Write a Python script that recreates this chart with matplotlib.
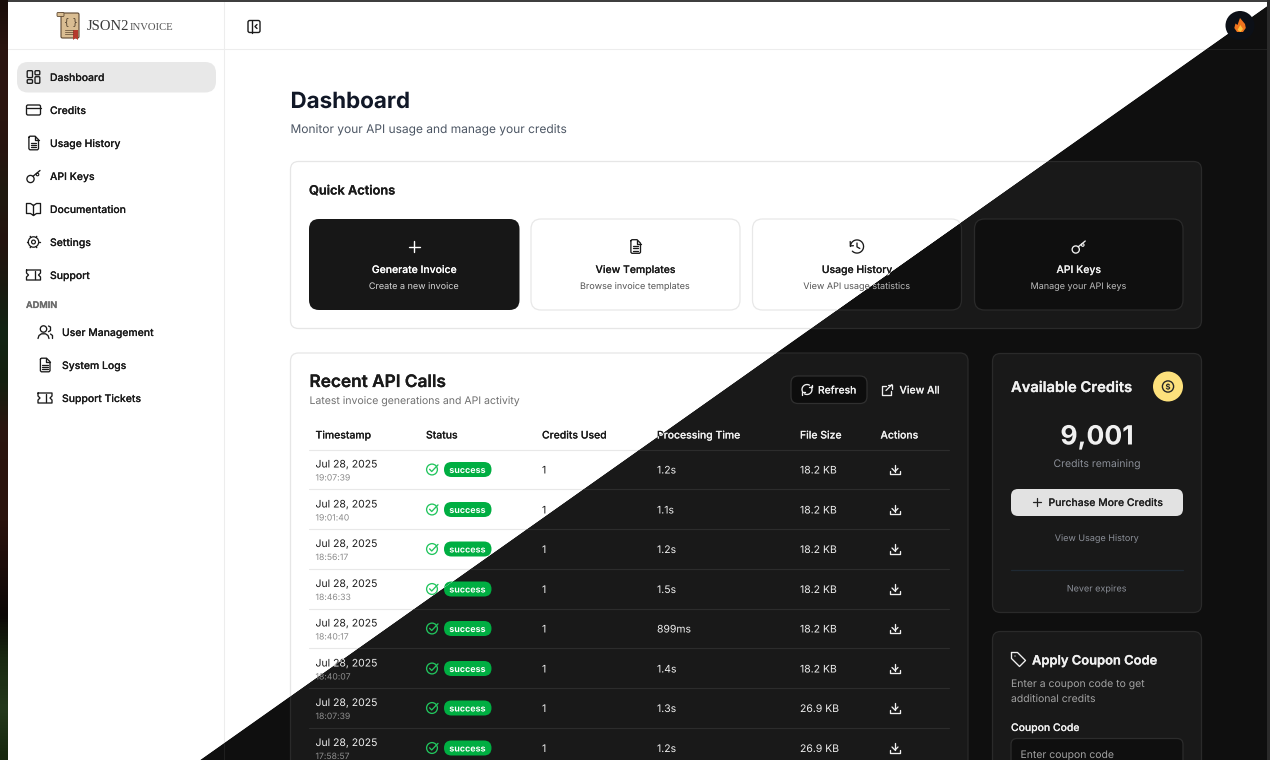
import matplotlib
matplotlib.use("Agg")
import matplotlib.pyplot as plt
import matplotlib.patheffects as pe
from matplotlib.patches import FancyBboxPatch, Polygon, Circle, Rectangle
from matplotlib.colors import LinearSegmentedColormap
import numpy as np

plt.rcParams['font.family'] = ['Inter', 'DejaVu Sans']

# ---- content ----
nav_items = ["Dashboard", "Credits", "Usage History", "API Keys", "Documentation", "Settings", "Support"]
nav_icons = ["grid", "card", "doc", "key", "book", "gear", "ticket"]
admin_items = ["User Management", "System Logs", "Support Tickets"]
admin_icons = ["users", "doc", "ticket"]
action_titles = ["Generate Invoice", "View Templates", "Usage History", "API Keys"]
action_subs = ["Create a new invoice", "Browse invoice templates", "View API usage statistics", "Manage your API keys"]
action_icons = ["plus", "doc", "history", "key"]
table_headers = ["Timestamp", "Status", "Credits Used", "Processing Time", "File Size", "Actions"]
row_dates = ["Jul 28, 2025"] * 8
row_times = ["19:07:39", "19:01:40", "18:56:17", "18:46:33", "18:40:17", "18:40:07", "18:07:39", "17:58:57"]
row_status = ["success"] * 8
row_credits = ["1"] * 8
row_proc = ["1.2s", "1.1s", "1.2s", "1.5s", "899ms", "1.4s", "1.3s", "1.2s"]
row_size = ["18.2 KB", "18.2 KB", "18.2 KB", "18.2 KB", "18.2 KB", "18.2 KB", "26.9 KB", "26.9 KB"]
row_y = [469.5, 509.5, 549, 589, 628.5, 668.5, 708, 748]
wallpaper_colors = ["#1a0e0a", "#2a1510", "#2c1610", "#28140f", "#1f1a10", "#24130e", "#1a1a10", "#122414", "#14200f",
                    "#2a1610", "#2a130d", "#2a130d", "#1c0d0a", "#0c0806", "#1a2a12", "#24381c", "#18280f"]

W, H = 1270, 760
fig = plt.figure(figsize=(12.7, 7.6), dpi=100)
ax = fig.add_axes([0, 0, 1, 1])
ax.set_xlim(0, W)
ax.set_ylim(H, 0)
ax.axis("off")

LIGHT = dict(bg="#ffffff", card="#ffffff", cardb="#e6e6e6", line="#ededed", rule="#e8e8e8", text="#1a1a1a",
             title="#111827", sub="#4b5563", muted="#6f6f6f", time="#8a8a8a", active="#e8e8e8", icon="#1a1a1a",
             b0="#171717", b0t="#ffffff", b0s="#d8d8d8", btn="#ffffff", btnb="#e8e8e8", btns="#525252",
             pill="#ffffff", pillb="#e5e5e5", input="#ffffff", inputb="#e5e5e5", cta="#171717", ctat="#fafafa",
             admin="#6b6b6b", sep="#e5e7eb", dim="#777777")
DARK = dict(bg="#0f0f0f", card="#191919", cardb="#2a2a2a", line="#1f1f1f", rule="#2c2c2c", text="#f0f0f0",
            title="#f9fafb", sub="#a8a8a8", muted="#a3a3a3", time="#8f8f8f", active="#262626", icon="#f0f0f0",
            b0="#e8e8e8", b0t="#111111", b0s="#333333", btn="#0f0f0f", btnb="#2a2a2a", btns="#bdbdbd",
            pill="#0d0d0d", pillb="#303030", input="#0f0f0f", inputb="#2c2c2c", cta="#e2e2e2", ctat="#222222",
            admin="#999999", sep="#1f2933", dim="#8b8f98")

DIAG = [(1270, 4), (200, 760)]
clip_light = Polygon([(0, 0), (1270, 0), DIAG[0], DIAG[1], (0, 760)], transform=ax.transData)
clip_dark = Polygon([DIAG[0], (1270, 760), DIAG[1]], transform=ax.transData)
STROKE = {"normal": 0.0, "medium": 0.06, "semibold": 0.16, "bold": 0.0}


def side(x, y):
    return (DIAG[1][0] - DIAG[0][0]) * (y - DIAG[0][1]) - (DIAG[1][1] - DIAG[0][1]) * (x - DIAG[0][0])


class Layer:
    def __init__(self, theme, clip, sign):
        self.c, self.clip, self.sign = theme, clip, sign
        self.z = 2

    def keep(self, x0, y0, x1, y1):
        return any(side(x, y) * self.sign >= 0 for x, y in [(x0, y0), (x1, y0), (x0, y1), (x1, y1)])

    def _add(self, art):
        art.set_clip_path(self.clip)
        art.set_clip_on(True)
        return art

    def rr(self, x0, y0, x1, y1, r, fc, ec="none", lw=0.8):
        if not self.keep(x0, y0, x1, y1):
            return
        p = FancyBboxPatch((x0 + r, y0 + r), x1 - x0 - 2 * r, y1 - y0 - 2 * r,
                           boxstyle=f"round,pad={r},rounding_size={r}", fc=fc, ec=ec, lw=lw, zorder=self.z)
        ax.add_patch(p)
        self._add(p)

    def ln(self, xs, ys, color, lw=0.9):
        if not self.keep(min(xs), min(ys), max(xs), max(ys)):
            return
        l, = ax.plot(xs, ys, color=color, lw=lw, solid_capstyle="round", solid_joinstyle="round", zorder=self.z + 1)
        self._add(l)

    def circ(self, x, y, r, fc="none", ec="none", lw=0.9):
        if not self.keep(x - r, y - r, x + r, y + r):
            return
        p = Circle((x, y), r, fc=fc, ec=ec, lw=lw, zorder=self.z + 1)
        ax.add_patch(p)
        self._add(p)

    def tx(self, x, y, s, size, color, weight="normal", ha="left"):
        t = ax.text(x, y, s, fontsize=size, color=color, weight=weight, ha=ha, va="center_baseline", zorder=self.z + 2)
        sw = STROKE.get(weight, 0)
        if sw:
            t.set_path_effects([pe.Stroke(linewidth=sw, foreground=color), pe.Normal()])
        else:
            t.set_path_effects([pe.Normal()])
        bb = t.get_window_extent(fig.canvas.get_renderer())
        if not self.keep(bb.x0, H - bb.y1, bb.x1, H - bb.y0):
            t.remove()
            return
        self._add(t)

    def icon(self, name, x, y, col):
        lw = 0.95
        if name == "grid":
            self.rr(x - 6.3, y - 6.3, x - 1, y + 0.6, 1, "none", col, lw)
            self.rr(x + 1.5, y - 6.3, x + 6.3, y - 2.2, 1, "none", col, lw)
            self.rr(x - 6.3, y + 2.6, x - 1, y + 6.3, 1, "none", col, lw)
            self.rr(x + 1.5, y - 0.3, x + 6.3, y + 6.3, 1, "none", col, lw)
        elif name == "card":
            self.rr(x - 7, y - 5, x + 7, y + 5, 1.5, "none", col, lw)
            self.ln([x - 7, x + 7], [y - 1.8, y - 1.8], col, lw)
        elif name == "doc":
            self.ln([x - 4.6, x - 3.6, x + 1.5, x + 5, x + 5, x + 4, x - 3.6, x - 4.6, x - 4.6],
                    [y - 5.8, y - 6.8, y - 6.8, y - 3.3, y + 5.8, y + 6.8, y + 6.8, y + 5.8, y - 5.8], col, lw)
            self.ln([x + 1.2, x + 1.2, x + 5], [y - 6.8, y - 3, y - 3], col, lw)
            for d in (-0.3, 1.9, 4.1):
                self.ln([x - 2.6, x + 2.6], [y + d, y + d], col, lw)
        elif name == "key":
            self.circ(x - 3, y + 3, 3.6, ec=col, lw=lw)
            self.ln([x - 0.5, x + 6.5], [y + 0.3, y - 5.5], col, lw)
            self.circ(x + 4, y - 1.5, 1.3, ec=col, lw=0.8)
        elif name == "book":
            self.ln([x, x - 3, x - 7, x - 7, x - 3, x, x + 3, x + 7, x + 7, x + 3, x, x],
                    [y - 3.5, y - 5.5, y - 5.5, y + 4.5, y + 4.5, y + 6.5, y + 4.5, y + 4.5, y - 5.5, y - 5.5, y - 3.5, y + 6.5], col, lw)
        elif name == "gear":
            self.circ(x, y, 1.9, ec=col, lw=0.9)
            self.circ(x, y, 5.2, ec=col, lw=0.9)
            for a in np.deg2rad([0, 60, 120, 180, 240, 300]):
                self.ln([x + 5.2 * np.cos(a), x + 6.5 * np.cos(a)], [y + 5.2 * np.sin(a), y + 6.5 * np.sin(a)], col, 1.0)
        elif name == "ticket":
            self.ln([x - 7, x + 7, x + 7, x + 5, x + 7, x + 7, x - 7, x - 7, x - 5, x - 7, x - 7],
                    [y - 5, y - 5, y - 2, y, y + 2, y + 5, y + 5, y + 2, y, y - 2, y - 5], col, lw)
            self.ln([x + 1, x + 1], [y - 4, y + 4], col, lw)
        elif name == "users":
            self.circ(x - 1.5, y - 3, 3.2, ec=col, lw=lw)
            self.ln([x - 7, x - 6, x - 3.5, x + 0.5, x + 3, x + 4], [y + 6.5, y + 3.5, y + 1.8, y + 1.8, y + 3.5, y + 6.5], col, lw)
            self.ln([x + 3.5, x + 5.5, x + 5.5, x + 3.5], [y - 6, y - 5, y - 1.5, y - 0.3], col, lw)
            self.ln([x + 5.5, x + 7.5, x + 7.5], [y + 2, y + 3.5, y + 6.5], col, lw)
        elif name == "plus":
            self.ln([x - 5.5, x + 5.5], [y, y], col, 1.0)
            self.ln([x, x], [y - 5.5, y + 5.5], col, 1.0)
        elif name == "plus_small":
            self.ln([x - 3.8, x + 3.8], [y, y], col, 0.9)
            self.ln([x, x], [y - 3.8, y + 3.8], col, 0.9)
        elif name == "history":
            a = np.deg2rad(np.arange(-180, 145, 15))
            self.ln(list(x + 6.6 * np.cos(a)), list(y + 6.6 * np.sin(a)), col, lw)
            self.ln([x - 6.8, x - 6.6, x - 3.6], [y - 5, y - 0.6, y - 0.8], col, lw)
            self.ln([x, x, x + 2.8], [y - 3.5, y + 0.4, y + 2], col, lw)
        elif name == "check":
            self.circ(x, y, 5.4, ec=col, lw=lw)
            self.ln([x - 2.4, x - 0.3, x + 6], [y - 0.2, y + 2, y - 4.6], col, lw)
        elif name == "download":
            self.ln([x - 5, x - 5, x + 5, x + 5], [y + 1.5, y + 4.6, y + 4.6, y + 1.5], col, lw)
            self.ln([x, x], [y - 5, y + 2], col, lw)
            self.ln([x - 3, x, x + 3], [y - 1, y + 2, y - 1], col, lw)
        elif name == "refresh":
            a = np.deg2rad(np.arange(-30, 130, 15))
            self.ln(list(x + 5 * np.cos(a)), list(y + 5 * np.sin(a)), col, lw)
            self.ln(list(x - 5 * np.cos(a)), list(y - 5 * np.sin(a)), col, lw)
            self.ln([x + 5, x + 5, x + 2], [y - 5, y - 2.5, y - 2.5], col, lw)
            self.ln([x - 5, x - 5, x - 2], [y + 5, y + 2.5, y + 2.5], col, lw)
        elif name == "external":
            self.ln([x - 1, x - 5, x - 5, x + 4, x + 4], [y - 3.5, y - 3.5, y + 5, y + 5, y + 1], col, lw)
            self.ln([x - 1, x + 5], [y + 1, y - 5], col, lw)
            self.ln([x + 1, x + 5, x + 5], [y - 5, y - 5, y - 1], col, lw)
        elif name == "tag":
            self.ln([x - 7, x - 1, x + 7, x + 1, x - 7, x - 7], [y - 7, y - 7, y + 1, y + 7, y - 1, y - 7], col, lw)
            self.circ(x - 3.5, y - 3.5, 0.6, fc=col)
        elif name == "panel":
            self.rr(x - 6, y - 6, x + 6, y + 6, 1.8, "none", col, 1.0)
            self.ln([x - 2, x - 2], [y - 6, y + 6], col, 1.0)
            self.ln([x + 3, x + 1, x + 3], [y - 2, y, y + 2], col, 1.0)


def draw(L):
    c = L.c
    L.rr(8, 2, 1267, 760, 0.01, c["bg"])
    L.ln([224.4, 224.4], [2, 760], c["line"], 0.8)
    L.ln([8, 1267], [49.2, 49.2], c["line"], 0.8)

    # navigation
    L.rr(17, 62, 216, 92.5, 11, c["active"])
    for i, (lab, ic) in enumerate(zip(nav_items, nav_icons)):
        y = 77 + 33 * i
        L.icon(ic, 33.5, y, c["icon"])
        L.tx(50, y, lab, 7.5, c["text"], "medium")
    L.tx(26, 304.5, "ADMIN", 6.6, c["admin"], "semibold")
    for i, (lab, ic) in enumerate(zip(admin_items, admin_icons)):
        y = 332 + 33 * i
        L.icon(ic, 45, y, c["icon"])
        L.tx(62, y, lab, 7.5, c["text"], "medium")
    L.icon("panel", 254, 26.5, c["icon"])

    # page heading
    L.tx(290.5, 100, "Dashboard", 16.1, c["title"], "bold")
    L.tx(290.5, 128.5, "Monitor your API usage and manage your credits", 8.6, c["sub"])

    # quick actions card
    L.rr(290.5, 161.5, 1201.5, 328.5, 8, c["card"], c["cardb"], 0.9)
    L.tx(309, 190, "Quick Actions", 9.2, c["text"], "semibold")
    xs = [(309, 519.5), (531, 740), (752.5, 961.5), (974.5, 1183)]
    for i, ((a, b), t, s, ic) in enumerate(zip(xs, action_titles, action_subs, action_icons)):
        first = i == 0
        L.rr(a, 219, b, 310, 10, c["b0"] if first else c["btn"], "none" if first else c["btnb"], 0.9)
        mid = (a + b) / 2
        L.icon(ic, mid, 246.5, c["b0t"] if first else c["icon"])
        L.tx(mid, 269, t, 7.5, c["b0t"] if first else c["text"], "medium", ha="center")
        L.tx(mid, 285.5, s, 6.5, c["b0s"] if first else c["btns"], ha="center")

    # recent calls card
    L.rr(290.5, 353, 968, 790, 8, c["card"], c["cardb"], 0.9)
    L.tx(309.5, 380.5, "Recent API Calls", 12.4, c["text"], "semibold")
    L.tx(309.5, 400, "Latest invoice generations and API activity", 7.55, c["muted"])
    L.rr(791, 376, 867, 403.5, 7, c["pill"], c["pillb"], 0.9)
    L.icon("refresh", 807, 389.5, c["icon"])
    L.tx(818, 389.5, "Refresh", 7.4, c["text"], "medium")
    L.icon("external", 887, 389.5, c["icon"])
    L.tx(899.5, 389.5, "View All", 7.5, c["text"], "medium")
    hx = [315.5, 426, 542, 657, 800, 880.5]
    for x, h in zip(hx, table_headers):
        L.tx(x, 434.5, h, 7.5, c["text"], "medium")
    L.ln([309, 949], [449.5, 449.5], c["rule"], 0.8)
    for y, d, t, st, cr, pr, sz in zip(row_y, row_dates, row_times, row_status, row_credits, row_proc, row_size):
        L.tx(315.5, y - 6, d, 7.5, c["text"])
        L.tx(315.5, y + 7.5, t, 6.2, c["time"])
        L.icon("check", 432, y, "#22c55e")
        L.rr(444, y - 7.5, 491.5, y + 7.5, 7.5, "#00ae42")
        L.tx(467.5, y, st, 6.4, "#ffffff", "bold", ha="center")
        L.tx(542, y, cr, 7.5, c["text"])
        L.tx(657, y, pr, 7.5, c["text"])
        L.tx(800, y, sz, 7.5, c["text"])
        L.icon("download", 895, y, c["icon"])
        L.ln([309, 949], [y + 19.7, y + 19.7], c["rule"], 0.8)

    # credits card
    L.rr(992.5, 353.5, 1201.5, 612.5, 8, c["card"], c["cardb"], 0.9)
    L.tx(1011, 386.5, "Available Credits", 10.6, c["text"], "semibold")
    L.circ(1168, 386.5, 15, fc="#fde17c")
    L.circ(1168, 386.5, 5.6, ec="#262626", lw=1.0)
    L.tx(1168, 386.5, "$", 5.6, "#262626", "bold", ha="center")
    L.tx(1097, 434.5, "9,001", 19.1, c["text"], "bold", ha="center")
    L.tx(1097, 463, "Credits remaining", 7.5, c["dim"], ha="center")
    L.rr(1011, 489, 1183, 516, 7, c["cta"])
    L.icon("plus_small", 1037, 502, c["ctat"])
    L.tx(1048.5, 502, "Purchase More Credits", 7.5, c["ctat"], "medium")
    L.tx(1097, 537.5, "View Usage History", 6.5, c["dim"], ha="center")
    L.ln([1011, 1183], [570, 570], c["sep"], 0.9)
    L.tx(1097, 588, "Never expires", 6.5, c["dim"], ha="center")

    # coupon card
    L.rr(992.5, 631.5, 1201.5, 790, 8, c["card"], c["cardb"], 0.9)
    L.icon("tag", 1018.5, 659.5, c["icon"])
    L.tx(1032, 660, "Apply Coupon Code", 9.3, c["text"], "semibold")
    L.tx(1011, 683, "Enter a coupon code to get", 7.5, c["muted"])
    L.tx(1011, 698, "additional credits", 7.5, c["muted"])
    L.tx(1011, 727, "Coupon Code", 7.5, c["text"], "medium")
    L.rr(1011, 738.5, 1183, 790, 6, c["input"], c["inputb"], 0.9)
    L.tx(1020.5, 754, "Enter coupon code", 7.5, c["muted"])


sgn = 1 if side(0, 0) > 0 else -1
draw(Layer(DARK, clip_dark, -sgn))
draw(Layer(LIGHT, clip_light, sgn))

# ---- logo (light header) ----
Z = 8
ax.add_patch(FancyBboxPatch((62, 14), 16, 23, boxstyle="round,pad=1,rounding_size=1.5", fc="#d9bd92", ec="#5c4630", lw=0.8, zorder=Z))
ax.add_patch(FancyBboxPatch((57.5, 13), 6, 3, boxstyle="round,pad=0.5,rounding_size=1", fc="#d9bd92", ec="#5c4630", lw=0.6, zorder=Z))
ax.add_patch(Polygon([(73, 30), (78, 30), (78, 40), (75.5, 38), (73, 40)], fc="#b5392c", ec="none", zorder=Z + 1))
ax.text(71, 22, "{ }", fontsize=6.2, color="#4a3a28", ha="center", va="center", zorder=Z + 1, family="DejaVu Sans")
for yy in (30, 32, 34):
    ax.plot([65, 73], [yy, yy], color="#5c4630", lw=0.5, zorder=Z + 1)
ax.text(87, 29.5, "JSON2", fontsize=10.5, color="#3a3a3a", family="Liberation Serif", va="baseline", zorder=Z)
ax.text(129.5, 29.5, "INVOICE", fontsize=7.7, color="#555555", family="Liberation Serif", va="baseline", zorder=Z)

# ---- theme toggle (drawn on both sides of the split) ----
ax.add_patch(Circle((1240, 25.5), 14.5, fc="#0c1017", ec="none", zorder=Z))
ax.add_patch(Polygon([(1240, 18), (1245, 24), (1245.8, 28), (1243, 32), (1237, 32), (1234.3, 28), (1235.5, 23.5), (1237.5, 25)], fc="#f0741e", ec="none", zorder=Z + 1))
ax.add_patch(Polygon([(1240.3, 25), (1243, 29), (1240.5, 32), (1237.5, 30)], fc="#fdc23c", ec="none", zorder=Z + 2))

# ---- window edges ----
ax.add_patch(Rectangle((0, 0), W, 2.2, fc="#3f3f3f", ec="none", zorder=Z))
ax.add_patch(Rectangle((1267, 0), 3, H, fc="#2a2a2a", ec="none", zorder=Z))
cmap = LinearSegmentedColormap.from_list("wall", wallpaper_colors)
ax.imshow(np.linspace(0, 1, 128).reshape(-1, 1), extent=(0, 8, H, 0), cmap=cmap, aspect="auto", zorder=Z, interpolation="bilinear")
ax.set_xlim(0, W)
ax.set_ylim(H, 0)

fig.savefig("out.png", dpi=100)
